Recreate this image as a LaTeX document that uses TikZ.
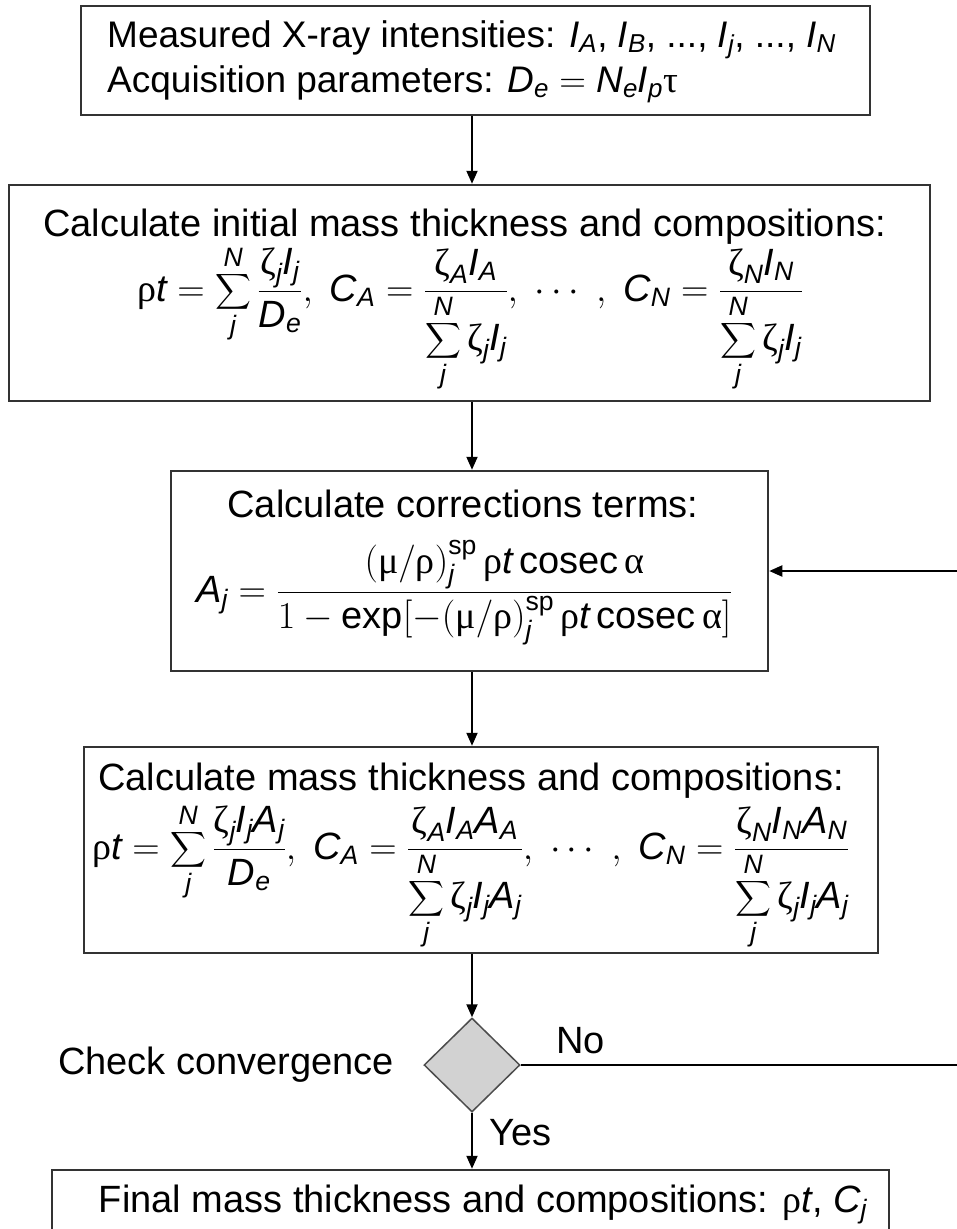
\RequirePackage{fix-cm}
\documentclass[tikz,border=0pt]{standalone}
\usepackage{amsmath}
\usepackage{fontspec}
\setmainfont{Liberation Sans}
\newfontfamily\grkfont{Liberation Serif}
\usepackage{tikz}
\usetikzlibrary{arrows.meta,positioning,shapes.geometric}

% italic variables and upright greek in the Arial-like look
\newcommand{\iv}[1]{\textit{#1}}
\newcommand{\gk}[1]{\text{\grkfont #1}}
\newcommand{\sv}[2]{\iv{#1}_{\iv{#2}}}
\newcommand{\zt}[1]{\gk{ζ}_{\iv{#1}}}
\newcommand{\rt}{\gk{ρ}\iv{t}}
\newcommand{\sumj}{\sum_{\iv{j}}^{\iv{N}}}

\begin{document}
\begin{tikzpicture}[x=1pt, y=-1pt, >={Triangle[length=13pt,width=11pt]},
  font=\fontsize{38}{46}\selectfont,
  box/.style={draw=black!80, line width=2.5pt, rectangle, inner sep=0pt},
  link/.style={->, line width=2pt},
  txt/.style={inner sep=0pt}]
  \useasboundingbox (0,0) rectangle (957,1229);
  % process boxes
  \node[box, minimum width=789pt, minimum height=109pt] (meas) at (475.5,60.5) {};
  \node[box, minimum width=921pt, minimum height=216pt] (init) at (469.5,293) {};
  \node[box, minimum width=597pt, minimum height=200pt] (corr) at (469.5,571) {};
  \node[box, minimum width=794pt, minimum height=206pt] (upd) at (481,850) {};
  \node[box, minimum width=837pt, minimum height=66pt] (final) at (470.5,1203) {};
  \node[diamond, draw=black!70, fill=gray!35, line width=1.5pt, inner sep=0pt,
    minimum width=96pt, minimum height=94pt] (conv) at (472,1065) {};
  % box texts
  \node[txt, anchor=base west, font=\fontsize{37}{44}\selectfont] (meas1) at (107,47)
    {Measured X-ray intensities: $\sv{I}{A}$, $\sv{I}{B}$, ..., $\sv{I}{j}$, ..., $\sv{I}{N}$};
  \node[txt, anchor=base west, font=\fontsize{37}{44}\selectfont] (meas2) at (107,92)
    {Acquisition parameters: $\sv{D}{e} = \sv{N}{e}\sv{I}{p}\gk{τ}$};
  \node[txt, anchor=base] (inittl) at (464.5,236) {Calculate initial mass thickness and compositions:};
  \node[txt, anchor=base] (initeq) at (470,301)
    {$\displaystyle \rt = \sumj\frac{\zt{j}\sv{I}{j}}{\sv{D}{e}},\ \sv{C}{A} = \frac{\zt{A}\sv{I}{A}}{\displaystyle\sumj\zt{j}\sv{I}{j}},\ \cdots\ ,\ \sv{C}{N} = \frac{\zt{N}\sv{I}{N}}{\displaystyle\sumj\zt{j}\sv{I}{j}}$};
  \node[txt, anchor=base] (corrtl) at (463,517) {Calculate corrections terms:};
  \node[txt, anchor=base] (correq) at (464.5,602)
    {$\displaystyle \sv{A}{j} = \frac{(\gk{μ}/\gk{ρ})_{\iv{j}}^{\text{sp}}\,\rt\,\text{cosec}\,\gk{α}}{1 - \text{exp}[-(\gk{μ}/\gk{ρ})_{\iv{j}}^{\text{sp}}\,\rt\,\text{cosec}\,\gk{α}]}$};
  \node[txt, anchor=base] (updtl) at (471,790) {Calculate mass thickness and compositions:};
  \node[txt, anchor=base] (updeq) at (471,859)
    {$\displaystyle \rt = \sumj\frac{\zt{j}\sv{I}{j}\sv{A}{j}}{\sv{D}{e}},\ \sv{C}{A} = \frac{\zt{A}\sv{I}{A}\sv{A}{A}}{\displaystyle\sumj\zt{j}\sv{I}{j}\sv{A}{j}},\ \cdots\ ,\ \sv{C}{N} = \frac{\zt{N}\sv{I}{N}\sv{A}{N}}{\displaystyle\sumj\zt{j}\sv{I}{j}\sv{A}{j}}$};
  \node[txt, anchor=base] (finaltxt) at (483,1212) {Final mass thickness and compositions: $\rt$, $\sv{C}{j}$};
  % decision labels
  \node[txt, left=29pt of conv] (convlbl) {Check convergence};
  \node[txt, anchor=base west] (nolbl) at (556,1053) {No};
  \node[txt, anchor=base west] (yeslbl) at (489,1145) {Yes};
  % connectors
  \coordinate (loopR) at (975,1065);
  \draw[link] (conv |- meas.south) -- (conv |- init.north);
  \draw[link] (conv |- init.south) -- (conv |- corr.north);
  \draw[link] (conv |- corr.south) -- (conv |- upd.north);
  \draw[link] (conv |- upd.south) -- (conv.north);
  \draw[link] (conv.south) -- (conv.south |- final.north);
  \draw[link] (conv.east) -- (loopR) |- (corr.east);
\end{tikzpicture}
\end{document}
